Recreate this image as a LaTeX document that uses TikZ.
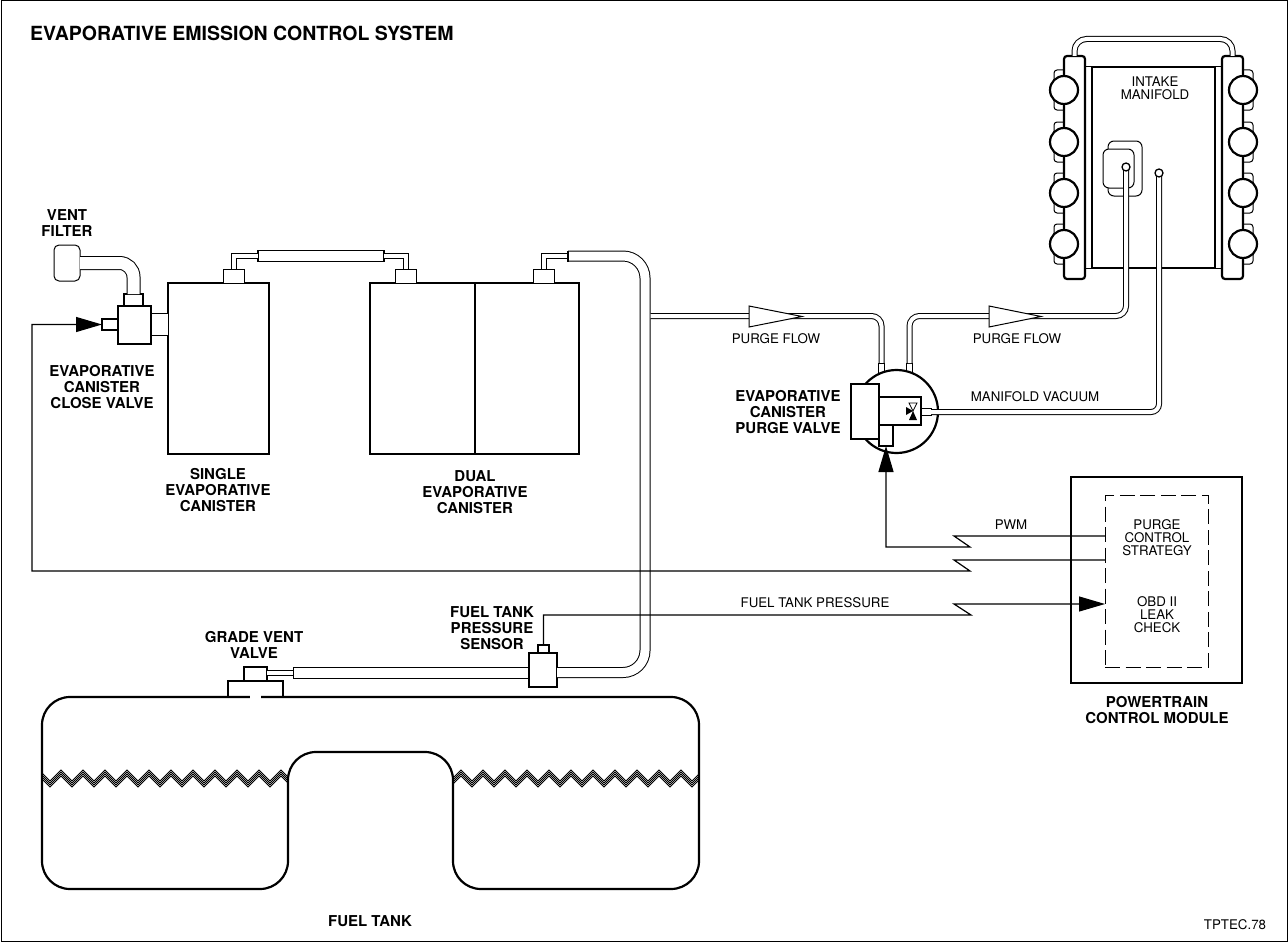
\documentclass[tikz,border=0pt]{standalone}
\usepackage{fontspec}
\setmainfont{TeX Gyre Heros}
\usetikzlibrary{arrows.meta}
\tikzstyle{thinbox} = [
    rectangle,
    draw=black,
    fill=white,
    line width=1pt,
    inner sep=0pt,
    outer sep=0pt
]
\tikzstyle{heavybox} = [
    thinbox,
    line width=2.2pt
]
\tikzstyle{railbox} = [
    heavybox,
    rounded corners=3pt,
    minimum width=21pt,
    minimum height=223pt
]
\tikzstyle{cylinder} = [
    circle,
    draw=black,
    fill=white,
    line width=2.2pt,
    inner sep=0pt,
    minimum size=28pt
]
\tikzstyle{cylinderbase} = [
    thinbox,
    rounded corners=3pt,
    minimum width=20pt,
    minimum height=40pt
]
\tikzstyle{portdot} = [
    circle,
    draw=black,
    fill=white,
    line width=1.3pt,
    inner sep=0pt,
    minimum size=8pt
]
\tikzstyle{widepipe} = [draw=black, line width=1pt, double=white, double distance=9pt]
\tikzstyle{thinpipe} = [draw=black, line width=1pt, double=white, double distance=4pt]
\tikzstyle{ventpipe} = [draw=black, line width=1pt, double=white, double distance=12pt]
\tikzstyle{wire} = [line width=1.2pt]
\tikzstyle{arrow} = [wire,-{Triangle[length=26pt,width=15pt]}]
\tikzstyle{flowmark} = [draw=black, fill=white, line width=1pt]
\tikzstyle{fuelwave} = [line width=0.8pt]
\tikzstyle{boldlabel} = [
    align=center,
    inner sep=0pt,
    font=\fontsize{15}{16}\selectfont\bfseries
]
\tikzstyle{pipelabel} = [
    align=center,
    inner sep=0pt,
    font=\fontsize{13.3}{13}\selectfont
]

\begin{document}
\begin{tikzpicture}[x=1pt,y=-1pt]

\useasboundingbox (0,0) rectangle (1288,942);

\node (frame) [thinbox, minimum width=1286pt, minimum height=940pt] at (644,471) {};

\node (title) [boldlabel, anchor=west, font=\fontsize{19.5}{20}\selectfont\bfseries] at (30,33) {EVAPORATIVE EMISSION CONTROL SYSTEM};

\coordinate (tubestart) at (568,256);
\coordinate (tubebend) at (645,256);
\coordinate (tubelow) at (645,672.5);
\coordinate (flowjoin) at (650.5,316);
\coordinate (flowbend) at (1126,316);
\coordinate (plenumtip) at (1126,167);
\coordinate (vacuumtip) at (1159,173);
\coordinate (manifoldtop) at (1150,39);
\coordinate (vacuumbend) at (1159,412);

\node (single) [heavybox, minimum width=101pt, minimum height=171pt] at (218.5,368.5) {};

\node (dualleft) [heavybox, minimum width=105pt, minimum height=171pt] at (422.5,368.5) {};

\node (dualright) [heavybox, minimum width=104pt, minimum height=171pt] at (527,368.5) {};

\node (singlecap) [thinbox, minimum width=21pt, minimum height=14pt] at (233.5,276) {};

\node (dualcapa) [thinbox, minimum width=21pt, minimum height=14pt] at (406,276) {};

\node (dualcapb) [thinbox, minimum width=21pt, minimum height=14pt] at (543.5,276) {};

\node (linktube) [thinbox, line width=1.3pt, minimum width=126pt, minimum height=11pt] at (321,256) {};

\node (lowertube) [thinbox, minimum width=236pt, minimum height=11pt] at (411,672.5) {};

\node (sensorbody) [heavybox, minimum width=28pt, minimum height=34pt] at (543,670) {};

\node (sensorcap) [heavybox, line width=1.6pt, minimum width=11pt, minimum height=8pt] at (543.5,649) {};

\draw [thinpipe] (singlecap.north) |- (linktube.west);
\draw [thinpipe] (dualcapa.north) |- (linktube.east);
\draw [thinpipe] (dualcapb.north) |- (tubestart);
\draw [widepipe, rounded corners=22pt] (tubestart) -- (tubebend) -- (tubelow) -- (sensorbody.east |- lowertube.east);
\draw [line width=1.3pt] (568,250.5) -- (568,261.5);
\draw [thinpipe, rounded corners=10pt] (881.5,372) |- (flowjoin);

\node (filter) [thinbox, rounded corners=5pt, minimum width=26pt, minimum height=36pt] at (67,263) {};

\node (closecap) [heavybox, line width=1.6pt, minimum width=19pt, minimum height=12pt] at (133.5,300) {};

\draw [ventpipe, rounded corners=14pt] (filter.east) -| (closecap.north);

\node (closebody) [heavybox, minimum width=33pt, minimum height=38pt] at (134.5,325) {};

\node (closestub) [heavybox, line width=1.6pt, minimum width=16pt, minimum height=11pt] at (110,324.5) {};

\node (closeport) [thinbox, minimum width=17pt, minimum height=22pt] at (159.5,324) {};

\node (gradetop) [heavybox, line width=1.6pt, minimum width=23pt, minimum height=14pt] at (255.5,674) {};

\node (gradebase) [heavybox, line width=1.6pt, minimum width=55pt, minimum height=16pt] at (255.5,689) {};

\draw [thinpipe] (gradetop.east |- lowertube.west) -- (lowertube.west);

\draw [line width=2.2pt, rounded corners=28pt] (42,697) -- (699,697) -- (699,889) -- (453,889) -- (453,752) -- (288,752) -- (288,889) -- (42,889) -- cycle;

\fill [white] (250,694) rectangle (261,700);

\foreach \dy in {0,2,4,6} {
    \begin{scope}
    \clip (43,760) rectangle (287,800);
    \draw [fuelwave] (39,770+\dy) \foreach \i in {0,...,11} { -- (50+22*\i,781+\dy) -- (61+22*\i,770+\dy) };
    \end{scope}
    \begin{scope}
    \clip (454,760) rectangle (698,800);
    \draw [fuelwave] (439,770+\dy) \foreach \i in {0,...,11} { -- (450+22*\i,781+\dy) -- (461+22*\i,770+\dy) };
    \end{scope}
}

\node (flowstub) [thinbox, minimum width=6pt, minimum height=17pt] at (881.5,371.5) {};

\node (flowstubb) [thinbox, minimum width=6pt, minimum height=17pt] at (909.5,371.5) {};

\node (gallery) [thinbox, minimum width=137pt, minimum height=201pt] at (1153.5,167.5) {};

\node (manifold) [heavybox, minimum width=123pt, minimum height=201pt] at (1153.5,167.5) {};

\node (plenumback) [thinbox, rounded corners=6pt, minimum width=34pt, minimum height=55pt] at (1125,168.5) {};

\node (plenumfront) [thinbox, rounded corners=6pt, minimum width=31pt, minimum height=39pt] at (1118.5,168.5) {};

\draw [thinpipe, rounded corners=10pt] (flowstubb.north) |- (flowbend) -- (plenumtip);

\node (plenumport) [portdot] at (plenumtip) {};

\draw [flowmark] (749,306) -- (802,316.5) -- (749,327) -- cycle;
\draw [flowmark] (989,306) -- (1041,316.5) -- (989,327) -- cycle;

\foreach \cy/\n in {90/a,142/b,193/c,244/d} {
    \node (leftbase\n) [cylinderbase] at (1064,\cy) {};
    \node (rightbase\n) [cylinderbase] at (1243,\cy) {};
}

\node (leftrail) [railbox] at (1074.5,167.5) {};

\node (rightrail) [railbox] at (1232.5,167.5) {};

\draw [thinpipe, rounded corners=12pt] (leftrail.north) -- (leftrail.north |- manifoldtop) -- (rightrail.north |- manifoldtop) -- (rightrail.north);

\foreach \cy/\n in {90/a,142/b,193/c,244/d} {
    \node (leftcyl\n) [cylinder] at (1064,\cy) {};
    \node (rightcyl\n) [cylinder] at (1243,\cy) {};
}

\node (purgevalve) [circle, draw=black, fill=white, line width=2.2pt, inner sep=0pt, minimum size=83pt] at (896.5,411.5) {};

\node (purgebody) [heavybox, line width=1.8pt, minimum width=42pt, minimum height=28pt] at (900,411) {};

\node (purgecoil) [heavybox, minimum width=28pt, minimum height=55pt] at (865,411.5) {};

\node (purgestem) [heavybox, line width=1.8pt, minimum width=14pt, minimum height=21pt] at (886,435.5) {};

\node (vacuumstub) [thinbox, minimum width=10pt, minimum height=7pt] at (926,412) {};

\draw [thinpipe, rounded corners=8pt] (vacuumstub.east) -- (vacuumbend) -- (vacuumtip);

\node (vacuumport) [portdot] at (vacuumtip) {};

\fill [black] (906,407) -- (913,411) -- (906,415) -- cycle;
\draw [fill=white, line width=0.7pt] (913,411) -- (909,403) -- (917,403) -- cycle;
\fill [black] (913,411) -- (909,420) -- (917,420) -- cycle;

\node (pcm) [heavybox, line width=2.5pt, minimum width=171pt, minimum height=206pt] at (1156.5,580) {};

\node (strategy) [thinbox, dash pattern=on 15pt off 5.5pt, minimum width=103pt, minimum height=172pt] at (1156.5,581) {};

\coordinate (pwmout) at (1105,536);
\coordinate (pwmhigh) at (954,536);
\coordinate (pwmlow) at (970,547);
\coordinate (closeout) at (1105,560);
\coordinate (closehigh) at (954,560);
\coordinate (closelow) at (970,571);
\coordinate (closeturn) at (32,571);
\coordinate (leakin) at (1105,604);
\coordinate (leakhigh) at (954,604);
\coordinate (leaklow) at (971,615);

\draw [arrow] (pwmout) -- (pwmhigh) -- (pwmlow) -| (purgestem.south);
\draw [arrow] (closeout) -- (closehigh) -- (closelow) -- (closeturn) |- (closestub.west);
\draw [arrow] (sensorcap.north) |- (leaklow) -- (leakhigh) -- (leakin);

\node (ventlabel) [boldlabel] at (67,223) {VENT\\FILTER};

\node (closelabel) [boldlabel] at (102,387) {EVAPORATIVE\\CANISTER\\CLOSE VALVE};

\node (singlelabel) [boldlabel] at (218,490) {SINGLE\\EVAPORATIVE\\CANISTER};

\node (duallabel) [boldlabel] at (475,492) {DUAL\\EVAPORATIVE\\CANISTER};

\node (sensorlabel) [boldlabel] at (492,628) {FUEL TANK\\PRESSURE\\SENSOR};

\node (gradelabel) [boldlabel] at (254,644.5) {GRADE VENT\\VALVE};

\node (purgelabel) [boldlabel] at (788,412) {EVAPORATIVE\\CANISTER\\PURGE VALVE};

\node (pcmlabel) [boldlabel] at (1157,710) {POWERTRAIN\\CONTROL MODULE};

\node (tanklabel) [boldlabel] at (370,921) {FUEL TANK};

\node (flowlabela) [pipelabel] at (776,339) {PURGE FLOW};

\node (flowlabelb) [pipelabel] at (1017,339) {PURGE FLOW};

\node (vacuumlabel) [pipelabel] at (1035,397) {MANIFOLD VACUUM};

\node (pwmlabel) [pipelabel] at (1011,525) {PWM};

\node (pressurelabel) [pipelabel] at (815,603) {FUEL TANK PRESSURE};

\node (manifoldlabel) [pipelabel] at (1155,88) {INTAKE\\MANIFOLD};

\node (strategylabel) [pipelabel] at (1157,538) {PURGE\\CONTROL\\STRATEGY};

\node (leaklabel) [pipelabel] at (1157,615) {OBD II\\LEAK\\CHECK};

\node (codelabel) [pipelabel] at (1235,925) {TPTEC.78};

\end{tikzpicture}
\end{document}
